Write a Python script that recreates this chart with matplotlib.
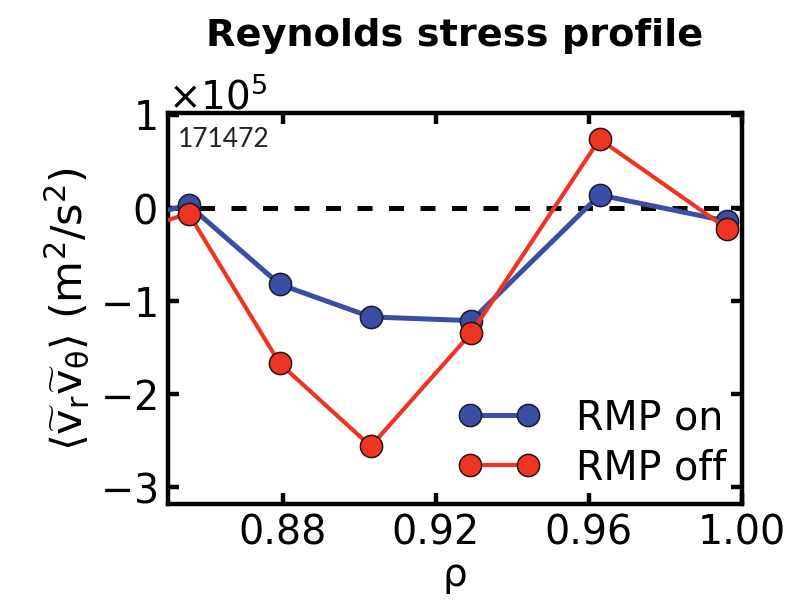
import numpy as np
import matplotlib.pyplot as plt
from matplotlib.ticker import ScalarFormatter

# normalized radius and Reynolds stress (m^2/s^2)
rho = [0.830, 0.8554, 0.8792, 0.9030, 0.9293, 0.9628, 0.9961]
rs_on = [-0.21e5, 0.03e5, -0.82e5, -1.17e5, -1.21e5, 0.14e5, -0.14e5]
rs_off = [-0.38e5, -0.06e5, -1.67e5, -2.56e5, -1.34e5, 0.74e5, -0.22e5]

blue = '#3a4ea3'
red = '#ee3524'

plt.rcParams['mathtext.fontset'] = 'dejavusans'

fig = plt.figure(figsize=(8.1, 6.05), dpi=100)
ax = fig.add_axes([0.2074, 0.167, 0.7086, 0.646])

ax.axhline(0, color='black', lw=3.6, ls=(0, (3.0, 3.3)), zorder=1)
ax.plot(rho, rs_on, '-o', color=blue, lw=3.6, ms=16, mfc=blue, mec='#1a1a2e',
        mew=1.1, label='RMP on', zorder=3)
ax.plot(rho, rs_off, '-o', color=red, lw=3.0, ms=16, mfc=red, mec='#2a1010',
        mew=1.1, label='RMP off', zorder=4)

ax.set_xlim(0.85, 1.0)
ax.set_ylim(-3.18e5, 1.02e5)
ax.set_xticks([0.88, 0.92, 0.96, 1.00])
ax.set_xticklabels(['0.88', '0.92', '0.96', '1.00'])
ax.set_yticks([-3e5, -2e5, -1e5, 0, 1e5])

fmt = ScalarFormatter(useMathText=True)
fmt.set_powerlimits((0, 0))
ax.yaxis.set_major_formatter(fmt)
ax.yaxis.get_offset_text().set_fontsize(28)

for s in ax.spines.values():
    s.set_linewidth(3.2)
ax.tick_params(direction='in', length=8, width=3.2, labelsize=28.5,
               top=True, right=True)
ax.tick_params(axis='x', pad=7)
ax.tick_params(axis='y', pad=8)

ax.set_xlabel('\u03c1', fontsize=28, labelpad=2)
ax.set_ylabel(r'$\langle\widetilde{\mathrm{v}}_{\mathrm{r}}\widetilde{\mathrm{v}}_{\mathrm{\theta}}\rangle$ (m$^2$/s$^2$)',
              fontsize=31, labelpad=6)

ax.text(0.018, 0.965, '171472', transform=ax.transAxes, fontsize=19,
        family='Lato', color='#222222', va='top', ha='left')

ax.legend(loc='lower right', frameon=False, fontsize=28.5, numpoints=2,
          handlelength=2.07, handletextpad=0.9, labelspacing=0.25,
          borderaxespad=0.0)

fig.text(0.5617, 0.94, 'Reynolds stress profile', fontsize=27.5,
         weight='bold', ha='center', va='center')

fig.savefig('out.png', dpi=100)
